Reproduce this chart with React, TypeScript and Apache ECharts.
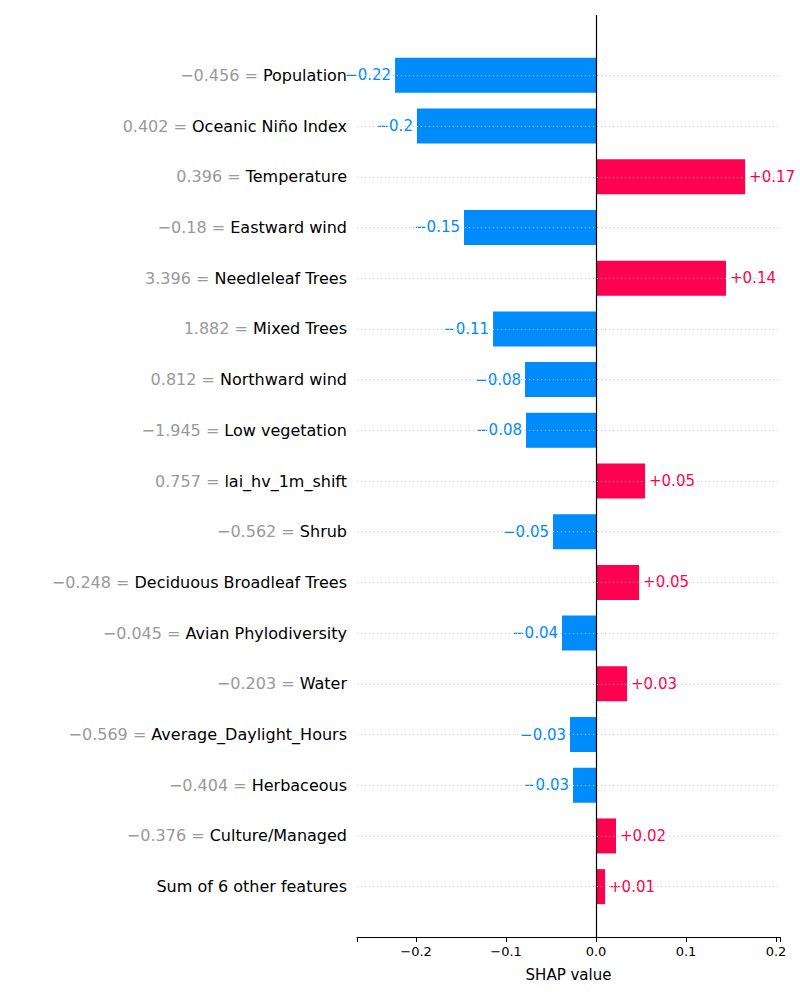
import { useEffect, useRef } from "react";
import * as echarts from "echarts";

const features = [
  "Population", "Oceanic Niño Index", "Temperature", "Eastward wind", "Needleleaf Trees",
  "Mixed Trees", "Northward wind", "Low vegetation", "lai_hv_1m_shift", "Shrub",
  "Deciduous Broadleaf Trees", "Avian Phylodiversity", "Water", "Average_Daylight_Hours",
  "Herbaceous", "Culture/Managed", "Sum of 6 other features",
];
const featureValues = [
  "−0.456", "0.402", "0.396", "−0.18", "3.396", "1.882", "0.812", "−1.945", "0.757",
  "−0.562", "−0.248", "−0.045", "−0.203", "−0.569", "−0.404", "−0.376", "",
];
const shapValues = [
  -0.2233, -0.199, 0.1656, -0.1467, 0.1444, -0.1144, -0.0789, -0.0778, 0.0544,
  -0.0478, 0.0478, -0.0378, 0.0344, -0.0289, -0.0256, 0.0222, 0.01,
];
const xTicks = [-0.2, -0.1, 0, 0.1, 0.2];

const BLUE = "#008bfb";
const RED = "#ff0051";
const X_MIN = -0.2656;
const X_MAX = 0.2044;
const FONT = "DejaVu Sans";

function fmt(v: number) {
  const s = String(Number(Math.abs(v).toFixed(2)));
  return (v < 0 ? "\u2212" : "+") + s;
}

export default function App() {
  const ref = useRef<HTMLDivElement>(null);
  useEffect(() => {
    document.body.style.margin = "0";
    const chart = echarts.init(ref.current!, null, { renderer: "svg" });
    const cats = features.map((_, i) => String(i));
    chart.setOption({
      animation: false,
      textStyle: { fontFamily: FONT },
      grid: [
        { left: 357, right: 20, top: 50, bottom: 88 },
        { left: 357, right: 20, top: 15, bottom: 63 },
      ],
      xAxis: [
        { gridIndex: 0, type: "value", min: X_MIN, max: X_MAX, show: false },
        {
          gridIndex: 1, type: "value", min: X_MIN, max: X_MAX,
          name: "SHAP value", nameLocation: "middle", nameGap: 30,
          nameTextStyle: { fontSize: 15, color: "#000", fontFamily: FONT },
          axisLine: { lineStyle: { color: "#000" } },
          axisTick: { lineStyle: { color: "#000" }, length: 5 },
          splitLine: { show: false },
          axisLabel: {
            fontSize: 13, color: "#000", fontFamily: FONT,
            customValues: xTicks,
            formatter: (v: number) => (v < 0 ? "\u2212" + Math.abs(v) : v === 0 ? "0.0" : String(v)),
          },
          axisTick2: undefined,
        },
      ],
      yAxis: [
        {
          gridIndex: 0, type: "category", data: cats, inverse: true,
          axisLine: { show: false }, axisTick: { show: false }, splitLine: { show: false },
          axisLabel: {
            margin: 10,
            formatter: (v: string) => {
              const i = Number(v);
              return featureValues[i]
                ? `{g|${featureValues[i]} = }{b|${features[i]}}`
                : `{b|${features[i]}}`;
            },
            rich: {
              g: { color: "#999", fontSize: 16, fontFamily: FONT },
              b: { color: "#000", fontSize: 16, fontFamily: FONT },
            },
          },
        },
        { gridIndex: 1, type: "value", min: 0, max: 1, show: false },
      ],
      series: [
        {
          type: "bar", xAxisIndex: 0, yAxisIndex: 0, barWidth: 35,
          data: shapValues.map((v) => ({
            value: v,
            itemStyle: { color: v < 0 ? BLUE : RED },
            label: {
              show: true, position: v < 0 ? "left" : "right", distance: 4,
              color: v < 0 ? BLUE : RED, fontSize: 15, fontFamily: FONT,
              formatter: () => fmt(v),
            },
          })),
          markLine: {
            silent: true, symbol: "none", label: { show: false },
            lineStyle: { color: "#ccc", type: [1, 3], width: 1 },
            data: cats.map((c) => ({ yAxis: c })),
          },
          z: 3,
        },
        {
          type: "line", xAxisIndex: 1, yAxisIndex: 1, data: [],
          markLine: {
            silent: true, symbol: "none", label: { show: false },
            lineStyle: { color: "#000", type: "solid", width: 1.2 },
            data: [{ xAxis: 0 }],
          },
        },
      ],
    });
    return () => chart.dispose();
  }, []);
  return <div ref={ref} style={{ width: 800, height: 1000 }} />;
}
